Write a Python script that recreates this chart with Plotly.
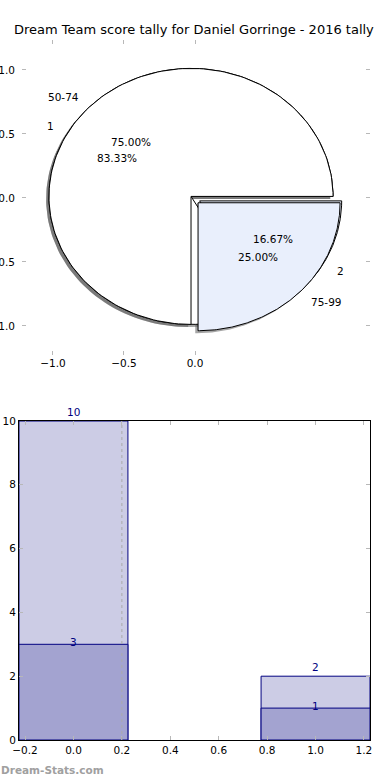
import numpy as np
import plotly.graph_objects as go

# ---------------- data ----------------
title_text = "Dream Team score tally for Daniel Gorringe - 2016 tally"
band_labels = ["50-74", "75-99"]      # pie 1 labels
band_counts = [3, 1]                  # pie 1 values (also dark bars)
tally_labels = ["1", "2"]             # pie 2 labels
tally_counts = [10, 2]                # pie 2 values (also light bars)
bar_x = [0, 1]
watermark = "Dream-Stats.com"

# ---------------- style ----------------
FONT = "DejaVu Sans"
PIE_CENTER = (-0.028, 0.012)
EXPLODE = [0.0, 0.07]
SHADOW_OFF = (-0.02, -0.02)
WEDGE_COLORS = ["#ffffff", "#e9effc"]
BAR_LIGHT = "rgb(204,204,229)"
BAR_DARK = "rgb(163,163,208)"
NAVY = "#000080"
TICK_GREY = "#b8b8b8"
BAR_WIDTH = 0.45
REF_LINE_X = 0.2

fig = go.Figure()


def wedge_path(cx, cy, a0, a1, n=160):
    t = np.radians(np.linspace(a0, a1, n))
    xs = np.concatenate([[cx], cx + np.cos(t), [cx]])
    ys = np.concatenate([[cy], cy + np.sin(t), [cy]])
    return xs, ys


def pie_geometry(values):
    total = float(sum(values))
    out = []
    start = 0.0
    for i, v in enumerate(values):
        sweep = 360.0 * v / total
        mid = np.radians(start + sweep / 2)
        cx = PIE_CENTER[0] + EXPLODE[i] * np.cos(mid)
        cy = PIE_CENTER[1] + EXPLODE[i] * np.sin(mid)
        out.append(dict(a0=start, a1=start + sweep, mid=mid, cx=cx, cy=cy,
                        pct=100.0 * v / total))
        start += sweep
    return out


pie1 = pie_geometry(band_counts)
pie2 = pie_geometry(tally_counts)

# shadows (below all wedges)
for geo in (pie2, pie1):
    for g in geo:
        xs, ys = wedge_path(g["cx"] + SHADOW_OFF[0], g["cy"] + SHADOW_OFF[1], g["a0"], g["a1"])
        fig.add_trace(go.Scatter(x=xs, y=ys, mode="lines", fill="toself",
                                 fillcolor="rgba(77,77,77,0.5)", line=dict(width=0),
                                 hoverinfo="skip", showlegend=False,
                                 xaxis="x", yaxis="y"))
# wedges: pie 2 first, pie 1 on top
for geo in (pie2, pie1):
    for i, g in enumerate(geo):
        xs, ys = wedge_path(g["cx"], g["cy"], g["a0"], g["a1"])
        fig.add_trace(go.Scatter(x=xs, y=ys, mode="lines", fill="toself",
                                 fillcolor=WEDGE_COLORS[i], line=dict(color="black", width=1),
                                 hoverinfo="skip", showlegend=False,
                                 xaxis="x", yaxis="y"))

annotations = []
for geo, labels in ((pie1, band_labels), (pie2, tally_labels)):
    for g, lab in zip(geo, labels):
        lx = g["cx"] + 1.1 * np.cos(g["mid"])
        ly = g["cy"] + 1.1 * np.sin(g["mid"])
        annotations.append(dict(x=lx, y=ly, xref="x", yref="y", text=lab, showarrow=False,
                                xanchor="left" if lx > 0 else "right", yanchor="middle",
                                font=dict(family=FONT, size=10.5, color="black")))
        px_ = g["cx"] + 0.6 * np.cos(g["mid"])
        py_ = g["cy"] + 0.6 * np.sin(g["mid"])
        annotations.append(dict(x=px_, y=py_, xref="x", yref="y", text="%.2f%%" % g["pct"],
                                showarrow=False, xanchor="center", yanchor="middle",
                                font=dict(family=FONT, size=10.5, color="black")))

# ---------------- bars ----------------
fig.add_trace(go.Bar(x=bar_x, y=tally_counts, width=BAR_WIDTH, marker=dict(color=BAR_LIGHT, line=dict(color=NAVY, width=1)),
                     hoverinfo="skip", showlegend=False, xaxis="x2", yaxis="y2"))
fig.add_trace(go.Bar(x=bar_x, y=band_counts, width=BAR_WIDTH, marker=dict(color=BAR_DARK, line=dict(color=NAVY, width=1)),
                     hoverinfo="skip", showlegend=False, xaxis="x2", yaxis="y2"))

for xv, yv in zip(bar_x, tally_counts):
    annotations.append(dict(x=xv, y=yv, xref="x2", yref="y2", text=str(yv), showarrow=False,
                            xanchor="center", yanchor="middle", yshift=9.5,
                            font=dict(family=FONT, size=10.5, color=NAVY)))
for xv, yv in zip(bar_x, band_counts):
    annotations.append(dict(x=xv, y=yv, xref="x2", yref="y2", text=str(yv), showarrow=False,
                            xanchor="center", yanchor="middle", yshift=2,
                            font=dict(family=FONT, size=10.5, color=NAVY)))

annotations.append(dict(x=194 / 390, y=(780 - 30) / 780, xref="paper", yref="paper", text=title_text,
                        showarrow=False, xanchor="center", yanchor="middle",
                        font=dict(family=FONT, size=13, color="black")))
annotations.append(dict(x=-0.002, y=(780 - 770) / 780, xref="paper", yref="paper", text="<b>" + watermark + "</b>",
                        showarrow=False, xanchor="left", yanchor="middle",
                        font=dict(family=FONT, size=10.5, color="#a0a0a0")))

shapes = [dict(type="line", xref="x2", yref="y2", x0=REF_LINE_X, x1=REF_LINE_X, y0=0, y1=max(tally_counts),
               line=dict(color="#aaaaaa", width=1, dash="dot"))]

tickfont = dict(family=FONT, size=10.5, color="black")
common = dict(showgrid=False, zeroline=False, ticks="inside", ticklen=4, tickwidth=1,
              tickcolor=TICK_GREY, tickfont=tickfont, mirror="ticks", automargin=False)

fig.update_layout(
    width=390, height=780, margin=dict(l=0, r=0, t=0, b=0, autoexpand=False),
    plot_bgcolor="white", paper_bgcolor="white", barmode="overlay",
    annotations=annotations, shapes=shapes,
    xaxis=dict(domain=[22 / 390, 370 / 390], anchor="y", range=[-1.218, 1.232],
               tickvals=[-1.0, -0.5, 0.0], tickformat=".1f", showline=False, **common),
    yaxis=dict(domain=[425 / 780, 740 / 780], anchor="x", range=[-1.227, 1.234],
               tickvals=[-1.0, -0.5, 0.0, 0.5, 1.0], tickformat=".1f", showline=False,
               ticklabelstandoff=6, **common),
    xaxis2=dict(domain=[19 / 390, 370 / 390], anchor="y2", range=[-0.225, 1.225],
                tickvals=[-0.2, 0.0, 0.2, 0.4, 0.6, 0.8, 1.0, 1.2], tickformat=".1f",
                showline=True, linecolor="black", linewidth=1, **common),
    yaxis2=dict(domain=[40 / 780, 359 / 780], anchor="x2", range=[0, 10],
                tickvals=[0, 2, 4, 6, 8, 10], showline=True, linecolor="black", linewidth=1, **common),
)

fig.write_html("out.html", config={"displayModeBar": False},
               post_script="document.body.style.margin='0';document.body.style.overflow='hidden';")
